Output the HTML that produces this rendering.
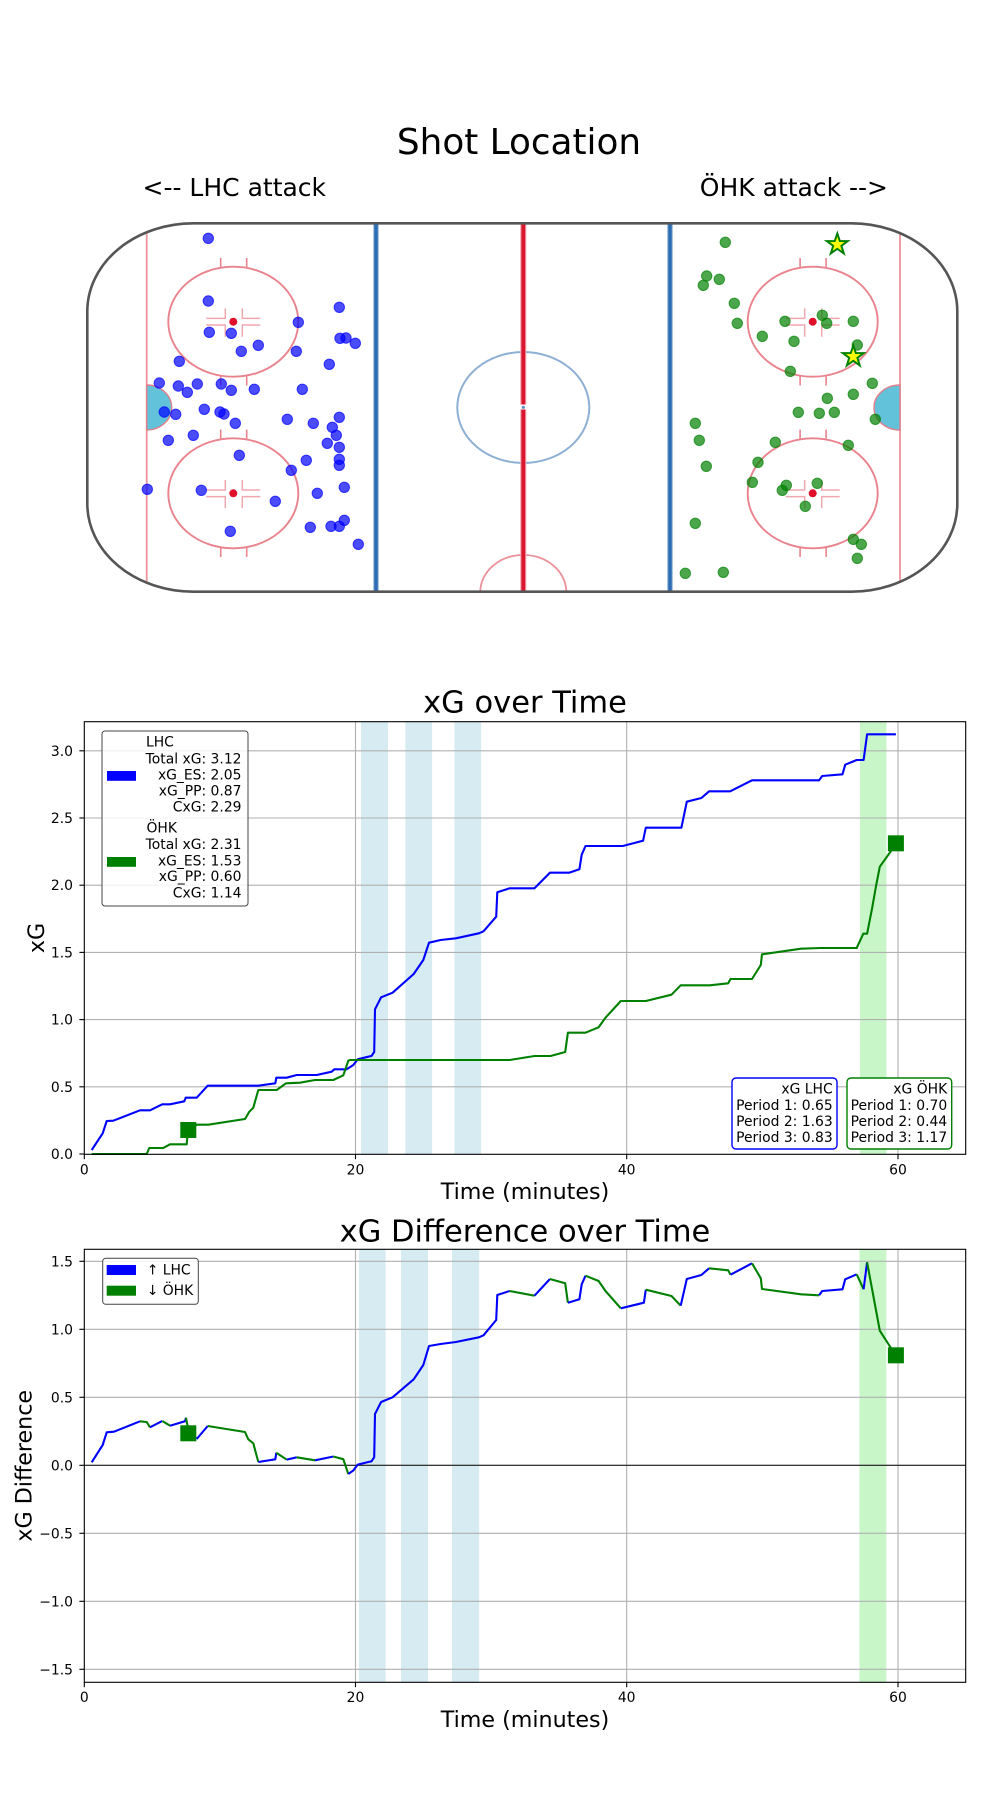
<!DOCTYPE html>
<html>
<head>
<meta charset="utf-8">
<style>
html,body{margin:0;padding:0;background:#fff;}
svg{display:block;}
text{font-family:"DejaVu Sans","Liberation Sans",sans-serif;fill:#000;}
</style>
</head>
<body>
<svg width="1000" height="1800" viewBox="0 0 1000 1800" xmlns="http://www.w3.org/2000/svg">
<rect x="0" y="0" width="1000" height="1800" fill="#fff"/>

<!-- ===== Shot Location ===== -->
<text x="519" y="154" font-size="35.8" text-anchor="middle">Shot Location</text>
<text x="142.5" y="196" font-size="25">&lt;-- LHC attack</text>
<text x="888" y="196" font-size="25" text-anchor="end">ÖHK attack --&gt;</text>

<defs>
<clipPath id="rk"><rect x="87.3" y="223.3" width="870" height="368.4" rx="106" ry="88"/></clipPath>
</defs>
<g clip-path="url(#rk)">
  <rect x="80" y="215" width="890" height="390" fill="#fff"/>
  <line x1="146.7" y1="215" x2="146.7" y2="600" stroke="#ea959d" stroke-width="1.8"/>
  <line x1="900" y1="215" x2="900" y2="600" stroke="#ea959d" stroke-width="1.8"/>
  <line x1="376" y1="215" x2="376" y2="600" stroke="#a9c6e4" stroke-width="6"/>
  <line x1="376" y1="215" x2="376" y2="600" stroke="#2d6db3" stroke-width="3.6"/>
  <line x1="670" y1="215" x2="670" y2="600" stroke="#a9c6e4" stroke-width="6"/>
  <line x1="670" y1="215" x2="670" y2="600" stroke="#2d6db3" stroke-width="3.6"/>
  <ellipse cx="523.3" cy="407.5" rx="66" ry="55.5" fill="none" stroke="#8db0d4" stroke-width="2"/>
  <ellipse cx="523.3" cy="592" rx="43" ry="37" fill="none" stroke="#ec9099" stroke-width="1.8"/>
  <line x1="523.3" y1="215" x2="523.3" y2="600" stroke="#f0a0aa" stroke-width="6"/>
  <line x1="523.3" y1="215" x2="523.3" y2="600" stroke="#d9162e" stroke-width="3.8"/>
  <rect x="519" y="404.5" width="9" height="5" fill="#fff"/>
  <circle cx="523.3" cy="407.3" r="1.6" fill="#5b8fc7"/>

  <g fill="none" stroke="#e9838d" stroke-width="1.9">
    <ellipse cx="233.3" cy="321.7" rx="65" ry="55"/>
    <ellipse cx="233.3" cy="493.3" rx="65" ry="55"/>
    <ellipse cx="812.7" cy="321.7" rx="65" ry="55"/>
    <ellipse cx="812.7" cy="493.3" rx="65" ry="55"/>
  </g>
  <g stroke="#e9838d" stroke-width="1.6">
    <line x1="220.7" y1="258" x2="220.7" y2="267"/><line x1="246.7" y1="258" x2="246.7" y2="267"/>
    <line x1="220.7" y1="376.5" x2="220.7" y2="385.5"/><line x1="246.7" y1="376.5" x2="246.7" y2="385.5"/>
    <line x1="220.7" y1="429.6" x2="220.7" y2="438.6"/><line x1="246.7" y1="429.6" x2="246.7" y2="438.6"/>
    <line x1="220.7" y1="548" x2="220.7" y2="557"/><line x1="246.7" y1="548" x2="246.7" y2="557"/>
    <line x1="800.1" y1="258" x2="800.1" y2="267"/><line x1="826.1" y1="258" x2="826.1" y2="267"/>
    <line x1="800.1" y1="376.5" x2="800.1" y2="385.5"/><line x1="826.1" y1="376.5" x2="826.1" y2="385.5"/>
    <line x1="800.1" y1="429.6" x2="800.1" y2="438.6"/><line x1="826.1" y1="429.6" x2="826.1" y2="438.6"/>
    <line x1="800.1" y1="548" x2="800.1" y2="557"/><line x1="826.1" y1="548" x2="826.1" y2="557"/>
  </g>
  <g stroke="#f0a8b0" stroke-width="1.5" fill="none">
    <path d="M206.3,318.4H225.3V308.4 M242.3,308.4V318.4H260.3 M206.3,325H225.3V336.7 M242.3,336.7V325H260.3"/>
    <path d="M206.3,490H225.3V480 M242.3,480V490H260.3 M206.3,496.6H225.3V508.3 M242.3,508.3V496.6H260.3"/>
    <path d="M785.7,318.4H804.7V308.4 M821.7,308.4V318.4H839.7 M785.7,325H804.7V336.7 M821.7,336.7V325H839.7"/>
    <path d="M785.7,490H804.7V480 M821.7,480V490H839.7 M785.7,496.6H804.7V508.3 M821.7,508.3V496.6H839.7"/>
  </g>
  <g fill="#e0102a">
    <circle cx="233.3" cy="321.7" r="4"/><circle cx="233.3" cy="493.3" r="4"/>
    <circle cx="812.7" cy="321.7" r="4"/><circle cx="812.7" cy="493.3" r="4"/>
  </g>
  <path d="M146.7,385 A25,22.5 0 0 1 146.7,430 Z" fill="#62c2da" stroke="#e07f8c" stroke-width="1.4"/>
  <path d="M900,385 A26,22.5 0 0 0 900,430 Z" fill="#62c2da" stroke="#e07f8c" stroke-width="1.4"/>
</g>
<rect x="87.3" y="223.3" width="870" height="368.4" rx="106" ry="88" fill="none" stroke="#555" stroke-width="2.6"/>

<g fill="#0000ff" fill-opacity="0.7" stroke="#0000ff" stroke-opacity="0.7" stroke-width="1">
<circle cx="208.3" cy="238.3" r="5.2"/>
<circle cx="208.3" cy="301" r="5.2"/>
<circle cx="339.3" cy="307.3" r="5.2"/>
<circle cx="298.3" cy="322.3" r="5.2"/>
<circle cx="209.3" cy="332.3" r="5.2"/>
<circle cx="231.3" cy="333.3" r="5.2"/>
<circle cx="340" cy="338.3" r="5.2"/>
<circle cx="346" cy="338" r="5.2"/>
<circle cx="355.3" cy="343.3" r="5.2"/>
<circle cx="258.3" cy="345.3" r="5.2"/>
<circle cx="241.3" cy="351.3" r="5.2"/>
<circle cx="296.3" cy="351.3" r="5.2"/>
<circle cx="179.3" cy="361.3" r="5.2"/>
<circle cx="329.3" cy="364.3" r="5.2"/>
<circle cx="159.3" cy="383" r="5.2"/>
<circle cx="178.3" cy="386" r="5.2"/>
<circle cx="197.3" cy="384" r="5.2"/>
<circle cx="187.3" cy="392.3" r="5.2"/>
<circle cx="221.3" cy="384" r="5.2"/>
<circle cx="231.3" cy="390.3" r="5.2"/>
<circle cx="254.3" cy="389.3" r="5.2"/>
<circle cx="302.3" cy="389.3" r="5.2"/>
<circle cx="164.3" cy="412" r="5.2"/>
<circle cx="175.7" cy="414.3" r="5.2"/>
<circle cx="204.3" cy="409.3" r="5.2"/>
<circle cx="220" cy="412" r="5.2"/>
<circle cx="224" cy="414" r="5.2"/>
<circle cx="235.3" cy="423.3" r="5.2"/>
<circle cx="287.3" cy="419.3" r="5.2"/>
<circle cx="313.3" cy="423.3" r="5.2"/>
<circle cx="339.3" cy="417.3" r="5.2"/>
<circle cx="332.3" cy="427.3" r="5.2"/>
<circle cx="336.3" cy="435.3" r="5.2"/>
<circle cx="168.3" cy="440.3" r="5.2"/>
<circle cx="193.3" cy="435.3" r="5.2"/>
<circle cx="327.3" cy="443.3" r="5.2"/>
<circle cx="339.3" cy="447.3" r="5.2"/>
<circle cx="239.3" cy="455.3" r="5.2"/>
<circle cx="306.3" cy="460.3" r="5.2"/>
<circle cx="339.3" cy="459.3" r="5.2"/>
<circle cx="339.3" cy="465.3" r="5.2"/>
<circle cx="291.3" cy="470.3" r="5.2"/>
<circle cx="147.3" cy="489.3" r="5.2"/>
<circle cx="201.3" cy="490.3" r="5.2"/>
<circle cx="344.3" cy="487.3" r="5.2"/>
<circle cx="317.3" cy="493.3" r="5.2"/>
<circle cx="275.3" cy="501.3" r="5.2"/>
<circle cx="230.3" cy="531.3" r="5.2"/>
<circle cx="310.3" cy="527.3" r="5.2"/>
<circle cx="331" cy="526.3" r="5.2"/>
<circle cx="339.3" cy="526.3" r="5.2"/>
<circle cx="344.3" cy="520.3" r="5.2"/>
<circle cx="358.3" cy="544.3" r="5.2"/>
</g>

<g fill="#008000" fill-opacity="0.7" stroke="#008000" stroke-opacity="0.7" stroke-width="1">
<circle cx="725.3" cy="242.3" r="5.2"/>
<circle cx="706.7" cy="276" r="5.2"/>
<circle cx="719.3" cy="279.3" r="5.2"/>
<circle cx="703.3" cy="285.3" r="5.2"/>
<circle cx="734.3" cy="303.3" r="5.2"/>
<circle cx="737.3" cy="323.3" r="5.2"/>
<circle cx="762.3" cy="336.3" r="5.2"/>
<circle cx="785" cy="321.3" r="5.2"/>
<circle cx="822.3" cy="315.3" r="5.2"/>
<circle cx="826.7" cy="323.3" r="5.2"/>
<circle cx="853.3" cy="321.3" r="5.2"/>
<circle cx="794" cy="341.3" r="5.2"/>
<circle cx="857.3" cy="345" r="5.2"/>
<circle cx="790.3" cy="371.3" r="5.2"/>
<circle cx="872.3" cy="383.3" r="5.2"/>
<circle cx="853.3" cy="394.3" r="5.2"/>
<circle cx="827.3" cy="398.3" r="5.2"/>
<circle cx="798.3" cy="412.3" r="5.2"/>
<circle cx="819.3" cy="413.3" r="5.2"/>
<circle cx="834.3" cy="412.3" r="5.2"/>
<circle cx="875.3" cy="419.3" r="5.2"/>
<circle cx="695.3" cy="423.3" r="5.2"/>
<circle cx="699.3" cy="440.3" r="5.2"/>
<circle cx="775.3" cy="442.3" r="5.2"/>
<circle cx="848.3" cy="445.3" r="5.2"/>
<circle cx="758" cy="462.3" r="5.2"/>
<circle cx="706.3" cy="466.3" r="5.2"/>
<circle cx="752.3" cy="482.3" r="5.2"/>
<circle cx="786.3" cy="485.3" r="5.2"/>
<circle cx="782.3" cy="490.3" r="5.2"/>
<circle cx="817.3" cy="483.3" r="5.2"/>
<circle cx="805.3" cy="506.3" r="5.2"/>
<circle cx="695.3" cy="523.3" r="5.2"/>
<circle cx="853.3" cy="539.3" r="5.2"/>
<circle cx="861.3" cy="544.3" r="5.2"/>
<circle cx="857.3" cy="558.3" r="5.2"/>
<circle cx="685.3" cy="573.3" r="5.2"/>
<circle cx="723.3" cy="572.3" r="5.2"/>
</g>
<g fill="#ffff00" stroke="#008000" stroke-width="2" stroke-linejoin="miter">
<polygon transform="translate(837.3,244.5)" points="0,-11 2.53,-3.48 10.46,-3.4 4.09,1.33 6.47,8.9 0,4.3 -6.47,8.9 -4.09,1.33 -10.46,-3.4 -2.53,-3.48"/>
<polygon transform="translate(853.3,356.5)" points="0,-11 2.53,-3.48 10.46,-3.4 4.09,1.33 6.47,8.9 0,4.3 -6.47,8.9 -4.09,1.33 -10.46,-3.4 -2.53,-3.48"/>
</g>

<!-- ===== Chart 1 ===== -->
<text x="525" y="712.7" font-size="30.5" text-anchor="middle">xG over Time</text>
<rect x="361" y="721.7" width="27" height="432.6" fill="#d6ecf2"/>
<rect x="405.3" y="721.7" width="26.8" height="432.6" fill="#d6ecf2"/>
<rect x="454.4" y="721.7" width="26.8" height="432.6" fill="#d6ecf2"/>
<rect x="860" y="721.7" width="26.5" height="432.6" fill="#c8f6c8"/>
<g stroke="#b0b0b0" stroke-width="1.1">
<line x1="355.5" y1="721.7" x2="355.5" y2="1154.3"/>
<line x1="626.7" y1="721.7" x2="626.7" y2="1154.3"/>
<line x1="898" y1="721.7" x2="898" y2="1154.3"/>
<line x1="84.3" y1="1086.8" x2="965.7" y2="1086.8"/>
<line x1="84.3" y1="1019.6" x2="965.7" y2="1019.6"/>
<line x1="84.3" y1="952.4" x2="965.7" y2="952.4"/>
<line x1="84.3" y1="885.2" x2="965.7" y2="885.2"/>
<line x1="84.3" y1="818" x2="965.7" y2="818"/>
<line x1="84.3" y1="750.8" x2="965.7" y2="750.8"/>
</g>
<polyline fill="none" stroke="#0000ff" stroke-width="2.1" stroke-linejoin="round" points="91.7,1150 102.7,1133.3 106.7,1121 113.3,1120.7 140,1110.3 150,1110.3 162.3,1104.3 170,1104.3 184.3,1101.3 185.7,1097.7 196.7,1097.7 207.7,1085.7 258.3,1085.7 275.3,1083.3 276.3,1077.7 286.7,1077.7 296.7,1075 316.7,1075 331.7,1071.7 334.3,1069.3 346.7,1069.3 353.3,1065 357.7,1059.3 368.3,1056.7 371.5,1056 374.2,1052 375,1009.3 381.1,997.3 392.6,992.7 413.7,974 423.3,960 429,942.7 440.6,940 455.9,938.3 478.9,933.3 483.5,931.3 496.2,916.7 497.3,892.3 509.6,888.3 534.5,888.3 549.9,872.7 569,872.7 579.4,869.3 581.7,854.7 585.5,846 622.8,846 643.1,840.7 645.8,827.7 681.4,827.7 686.8,801.7 701.4,798 709.1,791.3 730.2,791.3 752,780.3 819.1,780.3 822.2,776 842.5,774.3 845.2,764.7 856.7,760 863.6,760 867.1,734.3 895.9,734.3"/>
<polyline fill="none" stroke="#008000" stroke-width="2.1" stroke-linejoin="round" points="91.7,1154 146.7,1154 149.3,1148 163.3,1148 170,1144.3 186.7,1144.3 187.3,1137.3 190,1130 196.7,1124.7 208.3,1124.7 245,1119 249.3,1111.7 253.3,1107.7 258.3,1090 276.7,1090 286,1083.3 300,1082.7 315,1080 333.3,1080 343.3,1075.3 348.3,1060.7 350,1060 509.6,1060 534.5,1056 550.6,1056 565.2,1052 567.9,1032.7 585.5,1032.7 598.6,1027.3 605.5,1017.7 620.8,1001 645.8,1001 671.5,994.7 680.7,985.3 709.8,985.3 728.2,983.3 730.5,979 752,979 760.8,965 762,954.3 801.1,948.7 820.3,948 856.7,948 863.3,933.7 867.1,933.7 872.1,908.3 875.9,886.7 879.8,866.7 890.5,851.7 895.9,843.3"/>
<rect x="180.3" y="1122" width="16" height="16" fill="#008000"/>
<rect x="887.9" y="835.3" width="16" height="16" fill="#008000"/>
<rect x="84.3" y="721.7" width="881.4" height="432.6" fill="none" stroke="#000" stroke-width="1.1"/>
<g stroke="#000" stroke-width="1.1">
<line x1="79.4" y1="1154" x2="84.3" y2="1154"/>
<line x1="79.4" y1="1086.8" x2="84.3" y2="1086.8"/>
<line x1="79.4" y1="1019.6" x2="84.3" y2="1019.6"/>
<line x1="79.4" y1="952.4" x2="84.3" y2="952.4"/>
<line x1="79.4" y1="885.2" x2="84.3" y2="885.2"/>
<line x1="79.4" y1="818" x2="84.3" y2="818"/>
<line x1="79.4" y1="750.8" x2="84.3" y2="750.8"/>
<line x1="84.3" y1="1154.3" x2="84.3" y2="1159.2"/>
<line x1="355.5" y1="1154.3" x2="355.5" y2="1159.2"/>
<line x1="626.7" y1="1154.3" x2="626.7" y2="1159.2"/>
<line x1="898" y1="1154.3" x2="898" y2="1159.2"/>
</g>
<g font-size="13.9" text-anchor="end">
<text x="73" y="1159">0.0</text>
<text x="73" y="1091.8">0.5</text>
<text x="73" y="1024.6">1.0</text>
<text x="73" y="957.4">1.5</text>
<text x="73" y="890.2">2.0</text>
<text x="73" y="823">2.5</text>
<text x="73" y="755.8">3.0</text>
</g>
<g font-size="13.9" text-anchor="middle">
<text x="84.3" y="1174.5">0</text>
<text x="355.5" y="1174.5">20</text>
<text x="626.7" y="1174.5">40</text>
<text x="898" y="1174.5">60</text>
</g>
<text x="525" y="1199" font-size="22.2" text-anchor="middle">Time (minutes)</text>
<text transform="translate(44,938) rotate(-90)" font-size="22.2" text-anchor="middle">xG</text>

<rect x="102" y="731" width="146" height="175" rx="3" ry="3" fill="#fff" fill-opacity="0.85" stroke="#444" stroke-width="1"/>
<rect x="107" y="771" width="29" height="9.8" fill="#0000ff"/>
<rect x="107" y="857" width="29" height="9.8" fill="#008000"/>
<g font-size="13.9">
<text x="146" y="746.7">LHC</text>
<text x="241.5" y="763.3" text-anchor="end">Total xG: 3.12</text>
<text x="241.5" y="779.3" text-anchor="end">xG_ES: 2.05</text>
<text x="241.5" y="795.3" text-anchor="end">xG_PP: 0.87</text>
<text x="241.5" y="811.3" text-anchor="end">CxG: 2.29</text>
<text x="146.5" y="832.5">ÖHK</text>
<text x="241.5" y="849" text-anchor="end">Total xG: 2.31</text>
<text x="241.5" y="865.3" text-anchor="end">xG_ES: 1.53</text>
<text x="241.5" y="881" text-anchor="end">xG_PP: 0.60</text>
<text x="241.5" y="897.3" text-anchor="end">CxG: 1.14</text>
</g>

<rect x="732" y="1078" width="105" height="71" rx="4" ry="4" fill="#fff" stroke="#0000ff" stroke-width="1.4"/>
<rect x="847" y="1078" width="104.7" height="71" rx="4" ry="4" fill="#fff" stroke="#008000" stroke-width="1.4"/>
<g font-size="13.9" text-anchor="end">
<text x="832.7" y="1093.3">xG LHC</text>
<text x="832.7" y="1109.8">Period 1: 0.65</text>
<text x="832.7" y="1126">Period 2: 1.63</text>
<text x="832.7" y="1142.2">Period 3: 0.83</text>
<text x="947.2" y="1093.3">xG ÖHK</text>
<text x="947.2" y="1109.8">Period 1: 0.70</text>
<text x="947.2" y="1126">Period 2: 0.44</text>
<text x="947.2" y="1142.2">Period 3: 1.17</text>
</g>

<!-- ===== Chart 2 ===== -->
<text x="525" y="1241.5" font-size="30.5" text-anchor="middle">xG Difference over Time</text>
<rect x="359" y="1249.3" width="26.7" height="433" fill="#d6ecf2"/>
<rect x="401" y="1249.3" width="27" height="433" fill="#d6ecf2"/>
<rect x="452" y="1249.3" width="27.2" height="433" fill="#d6ecf2"/>
<rect x="859.4" y="1249.3" width="26.9" height="433" fill="#c8f6c8"/>
<g stroke="#b0b0b0" stroke-width="1.1">
<line x1="355.5" y1="1249.3" x2="355.5" y2="1682.3"/>
<line x1="626.7" y1="1249.3" x2="626.7" y2="1682.3"/>
<line x1="898" y1="1249.3" x2="898" y2="1682.3"/>
<line x1="84.3" y1="1261.3" x2="965.7" y2="1261.3"/>
<line x1="84.3" y1="1329.3" x2="965.7" y2="1329.3"/>
<line x1="84.3" y1="1397.3" x2="965.7" y2="1397.3"/>
<line x1="84.3" y1="1465.3" x2="965.7" y2="1465.3"/>
<line x1="84.3" y1="1533.3" x2="965.7" y2="1533.3"/>
<line x1="84.3" y1="1601.3" x2="965.7" y2="1601.3"/>
<line x1="84.3" y1="1669.3" x2="965.7" y2="1669.3"/>
</g>
<line x1="84.3" y1="1465.3" x2="965.7" y2="1465.3" stroke="#222" stroke-width="1.1"/>
<g fill="none" stroke-width="2.1" stroke-linejoin="round">
<polyline stroke="#0000ff" points="91.7,1462.3 102.7,1445 106.7,1432.3 114,1431.7 140,1421.3"/>
<polyline stroke="#008000" points="140,1421.3 146.7,1422 150,1427.3"/>
<polyline stroke="#0000ff" points="150,1427.3 162.3,1421"/>
<polyline stroke="#008000" points="162.3,1421 170,1425.7"/>
<polyline stroke="#0000ff" points="170,1425.7 185,1421.3 186,1417.7"/>
<polyline stroke="#008000" points="186,1417.7 187.3,1424.7 190,1432 196.7,1439"/>
<polyline stroke="#0000ff" points="196.7,1439 207.7,1426"/>
<polyline stroke="#008000" points="207.7,1426 245,1432 248.3,1439.3 253.3,1443.3 258.3,1462"/>
<polyline stroke="#0000ff" points="258.3,1462 275.3,1459.3 276.3,1452.7"/>
<polyline stroke="#008000" points="276.3,1452.7 286.7,1459.6"/>
<polyline stroke="#0000ff" points="286.7,1459.6 296.7,1457.3"/>
<polyline stroke="#008000" points="296.7,1457.3 315,1460.3"/>
<polyline stroke="#0000ff" points="315,1460.3 331.7,1456.9 333.3,1456.5"/>
<polyline stroke="#008000" points="333.3,1456.5 343.3,1459.2 348.3,1474"/>
<polyline stroke="#0000ff" points="348.3,1474 353.3,1470.5 357.7,1464.6 368.3,1462 371.5,1461.3 374.2,1457.3 375,1414 381.1,1402 392.6,1397.3 413.7,1379.3 423.3,1365 429,1346 440.6,1344 455.9,1342 478.9,1337.3 483.5,1335.3 496.2,1320 497.3,1295 509.6,1291"/>
<polyline stroke="#008000" points="509.6,1291 534.5,1295.7"/>
<polyline stroke="#0000ff" points="534.5,1295.7 549.9,1279"/>
<polyline stroke="#008000" points="549.9,1279 565.2,1283.3 567.9,1302.7"/>
<polyline stroke="#0000ff" points="567.9,1302.7 579.4,1299.3 581.7,1284.3 585.5,1275.7"/>
<polyline stroke="#008000" points="585.5,1275.7 598.6,1281 605.5,1291 620.8,1308.3"/>
<polyline stroke="#0000ff" points="620.8,1308.3 643.9,1302.7 645.8,1289.7"/>
<polyline stroke="#008000" points="645.8,1289.7 671.5,1296 680.7,1305.7"/>
<polyline stroke="#0000ff" points="680.7,1305.7 686.8,1279 701.4,1275 709.1,1268.3"/>
<polyline stroke="#008000" points="709.1,1268.3 728.2,1270.3 730.5,1274.7"/>
<polyline stroke="#0000ff" points="730.5,1274.7 752,1263.3"/>
<polyline stroke="#008000" points="752,1263.3 760.8,1278.3 762,1289 801.1,1294.3 819.1,1295.3"/>
<polyline stroke="#0000ff" points="819.1,1295.3 822.2,1291 842.5,1289.3 845.2,1279.3 856.7,1274.3"/>
<polyline stroke="#008000" points="856.7,1274.3 863.6,1289.3"/>
<polyline stroke="#0000ff" points="863.6,1289.3 867.1,1262.3"/>
<polyline stroke="#008000" points="867.1,1262.3 879.8,1330.7 890.5,1347.3 895.9,1355.3"/>
</g>
<rect x="180.3" y="1425.3" width="16" height="16" fill="#008000"/>
<rect x="887.9" y="1347.3" width="16" height="16" fill="#008000"/>
<rect x="84.3" y="1249.3" width="881.4" height="433" fill="none" stroke="#000" stroke-width="1.1"/>
<g stroke="#000" stroke-width="1.1">
<line x1="79.4" y1="1261.3" x2="84.3" y2="1261.3"/>
<line x1="79.4" y1="1329.3" x2="84.3" y2="1329.3"/>
<line x1="79.4" y1="1397.3" x2="84.3" y2="1397.3"/>
<line x1="79.4" y1="1465.3" x2="84.3" y2="1465.3"/>
<line x1="79.4" y1="1533.3" x2="84.3" y2="1533.3"/>
<line x1="79.4" y1="1601.3" x2="84.3" y2="1601.3"/>
<line x1="79.4" y1="1669.3" x2="84.3" y2="1669.3"/>
<line x1="84.3" y1="1682.3" x2="84.3" y2="1687.2"/>
<line x1="355.5" y1="1682.3" x2="355.5" y2="1687.2"/>
<line x1="626.7" y1="1682.3" x2="626.7" y2="1687.2"/>
<line x1="898" y1="1682.3" x2="898" y2="1687.2"/>
</g>
<g font-size="13.9" text-anchor="end">
<text x="73" y="1266.3">1.5</text>
<text x="73" y="1334.3">1.0</text>
<text x="73" y="1402.3">0.5</text>
<text x="73" y="1470.3">0.0</text>
<text x="73" y="1538.3">−0.5</text>
<text x="73" y="1606.3">−1.0</text>
<text x="73" y="1674.3">−1.5</text>
</g>
<g font-size="13.9" text-anchor="middle">
<text x="84.3" y="1702">0</text>
<text x="355.5" y="1702">20</text>
<text x="626.7" y="1702">40</text>
<text x="898" y="1702">60</text>
</g>
<text x="525" y="1727" font-size="22.2" text-anchor="middle">Time (minutes)</text>
<text transform="translate(31.7,1465.8) rotate(-90)" font-size="22.2" text-anchor="middle">xG Difference</text>

<rect x="102.7" y="1258.3" width="95.6" height="46" rx="3" ry="3" fill="#fff" fill-opacity="0.85" stroke="#444" stroke-width="1"/>
<rect x="106.7" y="1265" width="29.3" height="10" fill="#0000ff"/>
<rect x="106.7" y="1285.7" width="29.3" height="10" fill="#008000"/>
<g font-size="13.9">
<text x="146.7" y="1274.5">↑ LHC</text>
<text x="146.7" y="1295.2">↓ ÖHK</text>
</g>
</svg>
</body>
</html>
